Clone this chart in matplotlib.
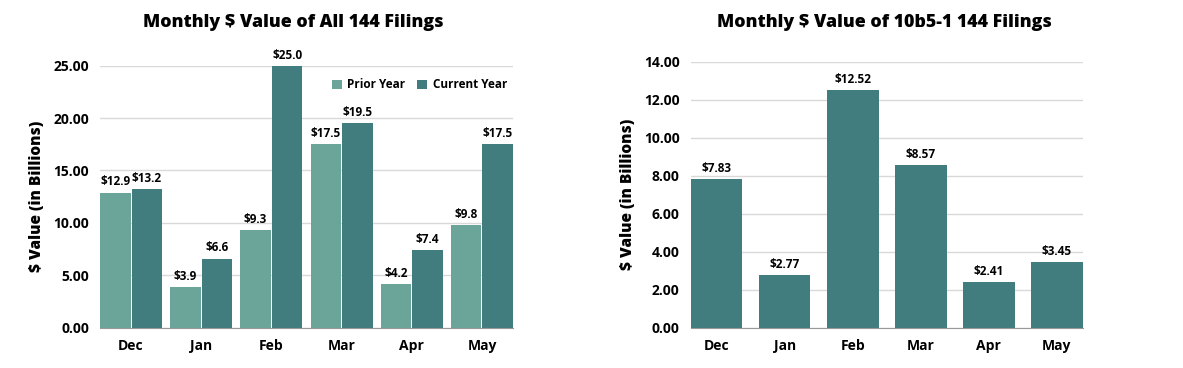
import matplotlib
matplotlib.use("Agg")
import matplotlib.pyplot as plt
import numpy as np

plt.rcParams['font.family'] = ['Open Sans', 'DejaVu Sans']
plt.rcParams['font.weight'] = 'bold'

months = ["Dec", "Jan", "Feb", "Mar", "Apr", "May"]
prior_year = [12.9, 3.9, 9.3, 17.5, 4.2, 9.8]
current_year = [13.2, 6.6, 25.0, 19.5, 7.4, 17.5]
plan_10b5 = [7.83, 2.77, 12.52, 8.57, 2.41, 3.45]

c_prior = "#6ba59a"
c_current = "#417c7e"
grid_c = "#d9d9d9"

fig = plt.figure(figsize=(11.83, 3.68), dpi=100)
W, H = 1183, 368
ax1 = fig.add_axes([100 / W, 1 - 327.7 / H, 413 / W, (327.7 - 65.7) / H])
ax2 = fig.add_axes([690.7 / W, 1 - 327.7 / H, 392 / W, (327.7 - 61.7) / H])


def style(ax, ymax, step):
    ax.set_ylim(0, ymax)
    ax.set_yticks(np.arange(0, ymax + 0.01, step))
    ax.yaxis.set_major_formatter(matplotlib.ticker.FormatStrFormatter('%.2f'))
    ax.grid(axis='y', color=grid_c, linewidth=1)
    ax.set_axisbelow(True)
    for s in ['top', 'right', 'left']:
        ax.spines[s].set_visible(False)
    ax.spines['bottom'].set_color('#999999')
    ax.tick_params(axis='both', length=0, labelsize=10, pad=8)
    ax.set_xticks(range(len(months)))
    ax.set_xticklabels(months, fontweight='bold')
    for t in ax.get_yticklabels():
        t.set_fontweight('bold')
    ax.set_ylabel("$ Value (in Billions)", fontsize=11.2, fontweight='heavy', labelpad=6)


x = np.arange(len(months))
bw = 0.435
off = 0.225
b1 = ax1.bar(x - off, prior_year, bw, color=c_prior, label="Prior Year")
b2 = ax1.bar(x + off, current_year, bw, color=c_current, label="Current Year")
ax1.bar_label(b1, labels=[f"${v:.1f}" for v in prior_year], fontsize=8.5, fontweight='bold', padding=3)
ax1.bar_label(b2, labels=[f"${v:.1f}" for v in current_year], fontsize=8.5, fontweight='bold', padding=3)
ax1.set_xlim(-off - bw / 2, len(months) - 1 + off + bw / 2)
style(ax1, 25, 5)
ax1.legend(loc='upper right', bbox_to_anchor=(1.0, 0.975), ncol=2, frameon=False,
           fontsize=8.5, handlelength=0.8, handleheight=0.8, handletextpad=0.5,
           columnspacing=1.0, borderaxespad=0.1)

bw2 = 0.76
b3 = ax2.bar(x, plan_10b5, bw2, color=c_current)
ax2.bar_label(b3, labels=[f"${v:.2f}" for v in plan_10b5], fontsize=8.5, fontweight='bold', padding=3)
ax2.set_xlim(-bw2 / 2, len(months) - 1 + bw2 / 2)
style(ax2, 14, 2)

fig.text(293 / W, 1 - 22.7 / H, "Monthly $ Value of All 144 Filings", fontsize=12.8,
         fontweight='heavy', ha='center', va='center')
fig.text(884.5 / W, 1 - 22.7 / H, "Monthly $ Value of 10b5-1 144 Filings", fontsize=12.8,
         fontweight='heavy', ha='center', va='center')

fig.savefig("out.png", dpi=100)
